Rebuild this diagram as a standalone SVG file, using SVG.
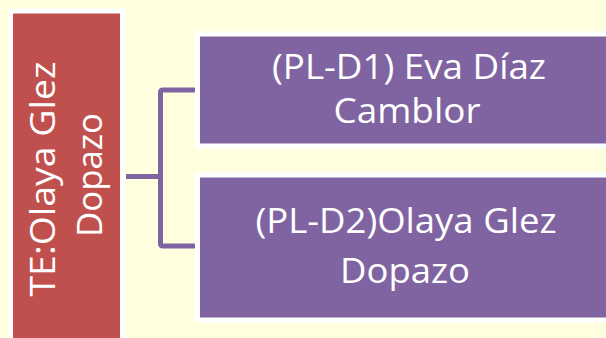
<svg xmlns="http://www.w3.org/2000/svg" width="606" height="338" viewBox="0 0 606 338">
<style>
.bg{fill:#FFFFE0}
.red{fill:#C0504D;stroke:#FFFFFF;stroke-width:5}
.pur{fill:#8064A2;stroke:#FFFFFF;stroke-width:5}
.t{font-family:"Open Sans","Noto Sans",sans-serif;font-size:35px;fill:#FFFFFF;text-anchor:middle}
.c{fill:none;stroke:#8064A2;stroke-width:5;stroke-linejoin:round}
</style>
<rect class="bg" x="0" y="0" width="606" height="338"/>
<g id="connectors">
<path class="c" d="M126,176.5 H160.5"/>
<path class="c" d="M195,90 H163 Q160.5,90 160.5,92.5 V243.5 Q160.5,246 163,246 H195"/>
</g>
<g id="te">
<rect class="red" x="10.5" y="11" width="112" height="340"/>
<text class="t" transform="translate(55,179) rotate(-90)" textLength="235" lengthAdjust="spacingAndGlyphs">TE:Olaya Glez</text>
<text class="t" transform="translate(101.5,175) rotate(-90)" textLength="124" lengthAdjust="spacingAndGlyphs">Dopazo</text>
</g>
<g id="pl-d1">
<rect class="pur" x="197.5" y="34" width="420" height="112"/>
<text class="t" x="409" y="79.3" textLength="274" lengthAdjust="spacingAndGlyphs">(PL-D1) Eva Díaz</text>
<text class="t" x="407" y="123.3" textLength="147" lengthAdjust="spacingAndGlyphs">Camblor</text>
</g>
<g id="pl-d2">
<rect class="pur" x="197.5" y="175" width="420" height="145"/>
<text class="t" x="406" y="233.3" textLength="301" lengthAdjust="spacingAndGlyphs">(PL-D2)Olaya Glez</text>
<text class="t" x="405" y="283.3" textLength="130" lengthAdjust="spacingAndGlyphs">Dopazo</text>
</g>
</svg>
